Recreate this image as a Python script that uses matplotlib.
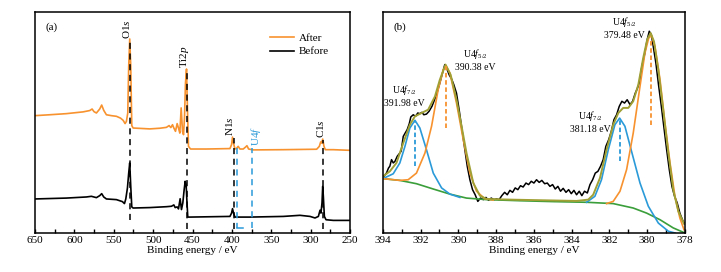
import matplotlib
matplotlib.use('Agg')
import matplotlib.pyplot as plt
from matplotlib.ticker import MultipleLocator

plt.rcParams['font.family'] = ['Liberation Serif', 'DejaVu Serif']
plt.rcParams['mathtext.fontset'] = 'custom'
plt.rcParams['mathtext.rm'] = 'Liberation Serif'
plt.rcParams['mathtext.it'] = 'Liberation Serif:italic'

ORANGE = '#f7922f'
BLUE = '#2a9ad8'
GREEN = '#3a9e3a'
OLIVE = '#a0a035'

# ---- panel (a): survey spectra ----
after_e = [650, 631.4, 610.2, 589.0, 580.5, 577.5, 575.0, 572.0, 567.8, 565.3, 562.7, 559.3,
           553.0, 546.6, 541.5, 538.1, 535.6, 533.9, 532.2, 531.0, 529.7, 528.4, 527.1, 525.4,
           504.2, 491.5, 483.1, 479.7, 477.5, 475.4, 473.7, 471.6, 469.5, 467.8, 466.1, 464.4,
           462.7, 461.4, 460.2, 458.9, 457.6, 456.4, 455.1, 452.5, 432.2, 402.5, 400.4, 399.2,
           397.9, 396.2, 394.1, 392.0, 389.8, 385.6, 382.6, 380.9, 378.8, 372.9, 334.7, 292.4,
           289.0, 287.3, 286.0, 284.7, 283.1, 281.4, 271.2, 250]
after_i = [53.1, 53.5, 54.0, 54.8, 55.4, 56.1, 54.9, 54.3, 56.1, 57.9, 55.5, 53.5,
           53.1, 52.8, 52.0, 51.0, 49.5, 50.5, 54.3, 75.4, 87.8, 75.4, 48.6, 47.5,
           47.1, 47.4, 47.8, 48.6, 47.7, 49.0, 47.5, 46.0, 49.5, 47.5, 45.2, 56.6,
           46.0, 44.5, 52.0, 67.9, 74.2, 55.8, 39.2, 38.0, 38.0, 38.2, 40.0, 43.4,
           40.7, 38.0, 38.3, 39.2, 38.0, 38.0, 38.9, 39.5, 38.0, 37.6, 37.7, 37.9,
           39.2, 41.2, 40.7, 42.5, 39.2, 37.7, 37.7, 37.4]

before_e = [650, 610.2, 584.7, 578.4, 572.0, 567.8, 565.3, 562.7, 559.3, 546.6, 539.0, 536.4,
            534.7, 532.6, 531.0, 529.7, 528.4, 527.1, 525.4, 504.2, 483.1, 476.7, 473.7, 472.0,
            469.5, 467.8, 465.7, 464.0, 462.3, 460.6, 459.3, 458.1, 457.2, 456.0, 453.4, 419.5,
            402.5, 400.4, 399.2, 397.9, 396.2, 377.1, 334.7, 313.6, 300.8, 294.5, 290.2, 288.1,
            286.9, 285.6, 284.7, 283.9, 282.6, 280.5, 271.2, 250]
before_i = [15.4, 15.8, 16.3, 16.6, 16.0, 16.9, 17.8, 16.3, 15.4, 15.1, 14.2, 13.3,
            15.4, 20.4, 27.1, 31.7, 21.1, 11.8, 11.3, 11.5, 11.9, 12.1, 12.7, 11.5,
            11.8, 10.9, 15.5, 10.6, 13.6, 19.6, 23.4, 21.9, 15.1, 7.2, 7.2, 7.4,
            7.5, 9.0, 11.0, 9.0, 7.2, 7.2, 7.5, 8.0, 7.5, 6.8, 7.5, 10.3,
            9.0, 13.6, 21.1, 16.6, 7.5, 6.0, 5.7, 5.7]

peak_names = [r'O1$\mathit{s}$', r'Ti2$\mathit{p}$', r'N1$\mathit{s}$', r'C1$\mathit{s}$']
peak_pos = [529.7, 456.8, 397.9, 284.3]
peak_top = [87.0, 74.0, 43.0, 42.0]
peak_bottom = [6.0, 1.8, 1.8, 1.8]
label_pos = [534.0, 460.6, 403.4, 287.3]
label_y = [88.0, 74.5, 44.0, 42.8]

u4f_left, u4f_right, u4f_top, u4f_bottom = 393.6, 375.0, 38.5, 2.2
u4f_foot = 385.8

# ---- panel (b): U4f high-resolution spectrum ----
raw_e = [393.95, 393.81, 393.70, 393.63, 393.54, 393.45, 393.36, 393.24, 393.13, 393.03, 392.92,
         392.82, 392.71, 392.60, 392.52, 392.39, 392.27, 392.15, 392.04, 391.93, 391.83, 391.69,
         391.55, 391.40, 391.26, 391.12, 390.98, 390.84, 390.72, 390.59, 390.49, 390.36, 390.24,
         390.10, 389.96, 389.81, 389.67, 389.53, 389.39, 389.25, 389.11, 388.97, 388.83, 388.68,
         388.54, 388.40, 388.26, 388.12, 387.98, 387.84, 387.70, 387.55, 387.41, 387.27, 387.13,
         386.99, 386.85, 386.71, 386.57, 386.42, 386.28, 386.14, 386.00, 385.86, 385.72, 385.58,
         385.43, 385.29, 385.15, 385.01, 384.87, 384.73, 384.59, 384.45, 384.30, 384.16, 384.02,
         383.88, 383.74, 383.60, 383.46, 383.32, 383.17, 383.03, 382.89, 382.75, 382.61, 382.47,
         382.33, 382.19, 382.04, 381.90, 381.76, 381.62, 381.48, 381.34, 381.20, 381.06, 380.91,
         380.77, 380.63, 380.53, 380.42, 380.28, 380.14, 380.00, 379.89, 379.78, 379.68, 379.54,
         379.40, 379.25, 379.11, 378.97, 378.83, 378.69, 378.55, 378.41, 378.27, 378.12, 378.02]
raw_i = [25.6, 27.1, 29.4, 30.2, 33.2, 31.7, 32.4, 34.7, 35.9, 37.0, 43.7,
         45.2, 46.8, 49.5, 52.5, 53.5, 52.8, 54.3, 54.0, 54.6, 53.5, 53.8,
         55.1, 57.3, 60.3, 63.7, 67.9, 72.4, 76.2, 73.9, 71.6, 69.7, 67.1,
         63.3, 55.8, 46.8, 38.5, 30.2, 24.1, 19.6, 17.3, 14.3, 15.8, 15.1,
         16.1, 14.8, 15.8, 15.1, 15.4, 15.1, 16.9, 18.4, 17.3, 19.3, 18.4,
         20.4, 19.6, 21.4, 20.8, 22.6, 21.9, 23.4, 22.6, 24.1, 22.9, 23.8,
         22.3, 22.6, 21.1, 21.9, 19.9, 21.1, 18.9, 20.2, 18.4, 19.6, 17.8,
         19.3, 17.3, 18.9, 16.9, 18.9, 18.1, 21.9, 24.1, 27.1, 27.9, 30.2,
         33.2, 39.2, 42.2, 46.0, 51.3, 53.5, 57.3, 59.6, 58.8, 60.3, 58.1,
         59.6, 63.3, 65.2, 67.9, 75.4, 80.7, 87.5, 91.3, 89.7, 84.5, 76.9,
         67.1, 57.3, 47.5, 37.7, 28.7, 21.1, 16.6, 13.6, 9.0, 5.7, 4.2]

env_e = [394.0, 393.63, 393.28, 392.92, 392.57, 392.30, 391.95, 391.60, 391.24, 390.98, 390.68,
         390.41, 390.10, 389.83, 389.57, 389.21, 388.86, 388.51, 387.27, 385.51, 383.74, 383.12,
         382.86, 382.50, 382.15, 381.80, 381.53, 381.27, 381.00, 380.74, 380.47, 380.21, 380.00,
         379.82, 379.64, 379.41, 379.15, 378.88, 378.62, 378.35, 378.05]
env_i = [25.6, 27.9, 31.7, 40.7, 49.0, 52.8, 54.3, 55.8, 61.8, 69.4, 76.2,
         71.6, 60.3, 48.3, 36.2, 22.6, 16.9, 15.4, 15.1, 14.8, 14.5, 15.1,
         17.3, 24.9, 37.7, 49.0, 54.3, 56.6, 56.6, 59.6, 67.1, 79.2, 87.5,
         90.5, 86.7, 73.9, 55.8, 36.2, 19.6, 9.8, 4.2]

bg_e = [394.0, 393.10, 392.22, 391.33, 390.45, 389.57, 388.51, 386.74, 384.98, 383.21, 381.80,
        380.74, 380.03, 379.32, 378.62, 378.0]
bg_i = [24.6, 23.8, 22.3, 19.9, 17.6, 15.8, 15.1, 14.6, 14.2, 13.9, 13.3,
        11.3, 9.0, 6.0, 2.3, 0.0]

blue1_e = [394.0, 393.45, 393.10, 392.83, 392.57, 392.30, 392.04, 391.69, 391.33, 390.89, 390.45, 389.92]
blue1_i = [24.6, 26.8, 31.7, 39.2, 47.5, 51.0, 47.5, 37.7, 27.1, 20.4, 17.6, 16.1]
orange1_e = [394.0, 393.10, 392.66, 392.22, 391.77, 391.42, 391.07, 390.80, 390.66, 390.45,
             390.10, 389.74, 389.39, 389.04, 388.60, 388.15]
orange1_i = [24.6, 23.8, 24.1, 27.1, 36.2, 48.3, 64.9, 73.9, 75.7, 72.4,
             58.8, 42.2, 27.1, 18.9, 15.5, 14.9]
blue2_e = [383.21, 382.77, 382.42, 382.06, 381.71, 381.46, 381.18, 380.83, 380.38, 379.94,
           379.41, 378.88, 378.53]
blue2_i = [13.9, 16.6, 24.1, 37.7, 49.0, 52.0, 48.3, 37.0, 22.6, 12.1, 4.5, 0.8, 0.0]
orange2_e = [382.15, 381.80, 381.44, 381.09, 380.74, 380.38, 380.12, 379.92, 379.77, 379.59,
             379.32, 379.06, 378.79, 378.53, 378.27, 378.05]
orange2_i = [13.3, 14.3, 18.9, 28.7, 45.2, 66.4, 81.4, 88.2, 89.3, 84.5,
             69.4, 49.8, 31.7, 16.6, 6.8, 1.5]

fit_pos = [392.3, 390.68, 381.46, 379.8]
fit_top = [51.0, 75.5, 51.5, 88.0]
fit_bottom = [30.2, 47.5, 32.4, 48.9]
fit_colors = [BLUE, ORANGE, BLUE, ORANGE]
fit_labels = [r'U4$\mathit{f}_{7/2}$', r'U4$\mathit{f}_{5/2}$', r'U4$\mathit{f}_{7/2}$', r'U4$\mathit{f}_{5/2}$']
fit_energy = ['391.98 eV', '390.38 eV', '381.18 eV', '379.48 eV']
text_x = [392.87, 389.1, 383.0, 381.2]
text_y = [64.5, 81.0, 53.0, 95.5]

fig = plt.figure(figsize=(7.21, 2.72), dpi=100)
ax1 = fig.add_axes([0.0485, 0.1434, 0.437, 0.8125])
ax2 = fig.add_axes([0.531, 0.1434, 0.419, 0.8125])

# panel (a)
ax1.plot(after_e, after_i, color=ORANGE, lw=1.2, label='After')
ax1.plot(before_e, before_i, color='black', lw=1.2, label='Before')
for name, x, top, bot, lx, ly in zip(peak_names, peak_pos, peak_top, peak_bottom, label_pos, label_y):
    ax1.plot([x, x], [bot, top], color='black', ls=(0, (4, 3)), lw=1.1)
    ax1.text(lx, ly, name, rotation=90, ha='center', va='bottom', fontsize=8)
# U4f bracket: two dashed verticals and a short foot
ax1.plot([u4f_left, u4f_left], [u4f_top, u4f_bottom], color=BLUE, ls=(0, (4, 3)), lw=1.1)
ax1.plot([u4f_left, u4f_foot], [u4f_bottom, u4f_bottom], color=BLUE, lw=1.1)
ax1.plot([u4f_right, u4f_right], [u4f_bottom, u4f_top], color=BLUE, ls=(0, (4, 3)), lw=1.1)
ax1.text(369.5, 39.5, r'U4$\mathit{f}$', rotation=90, ha='center', va='bottom',
         fontsize=8, color=BLUE)
ax1.set_xlim(650, 250)
ax1.set_ylim(0, 100)
ax1.xaxis.set_major_locator(MultipleLocator(50))
ax1.xaxis.set_minor_locator(MultipleLocator(25))
ax1.set_xlabel('Binding energy / eV', fontsize=8, labelpad=1)
ax1.text(0.035, 0.93, '(a)', transform=ax1.transAxes, fontsize=8, va='center')
ax1.legend(loc='upper right', bbox_to_anchor=(0.965, 0.95), frameon=False, fontsize=8,
           handlelength=2.2, handletextpad=0.4, labelspacing=0.35)

# panel (b)
ax2.plot(raw_e, raw_i, color='black', lw=1.1)
ax2.plot(bg_e, bg_i, color=GREEN, lw=1.2)
ax2.plot(blue1_e, blue1_i, color=BLUE, lw=1.2)
ax2.plot(orange1_e, orange1_i, color=ORANGE, lw=1.2)
ax2.plot(blue2_e, blue2_i, color=BLUE, lw=1.2)
ax2.plot(orange2_e, orange2_i, color=ORANGE, lw=1.2)
ax2.plot(env_e, env_i, color=OLIVE, lw=1.4)
for x, top, bot, c, lab, en, tx, ty in zip(fit_pos, fit_top, fit_bottom, fit_colors,
                                           fit_labels, fit_energy, text_x, text_y):
    ax2.plot([x, x], [bot, top], color=c, ls=(0, (2.5, 1.5)), lw=1.3)
    ax2.text(tx, ty, lab, ha='center', va='center', fontsize=7)
    ax2.text(tx, ty - 6, en, ha='center', va='center', fontsize=7)
ax2.set_xlim(394, 378)
ax2.set_ylim(0, 100)
ax2.xaxis.set_major_locator(MultipleLocator(2))
ax2.xaxis.set_minor_locator(MultipleLocator(1))
ax2.set_xlabel('Binding energy / eV', fontsize=8, labelpad=1)
ax2.text(0.035, 0.93, '(b)', transform=ax2.transAxes, fontsize=8, va='center')

for ax in (ax1, ax2):
    ax.set_yticks([])
    ax.tick_params(axis='x', which='both', direction='in', length=3, width=1,
                   labelsize=8, pad=2)
    for s in ax.spines.values():
        s.set_linewidth(1.1)

fig.savefig('out.png', dpi=100)
